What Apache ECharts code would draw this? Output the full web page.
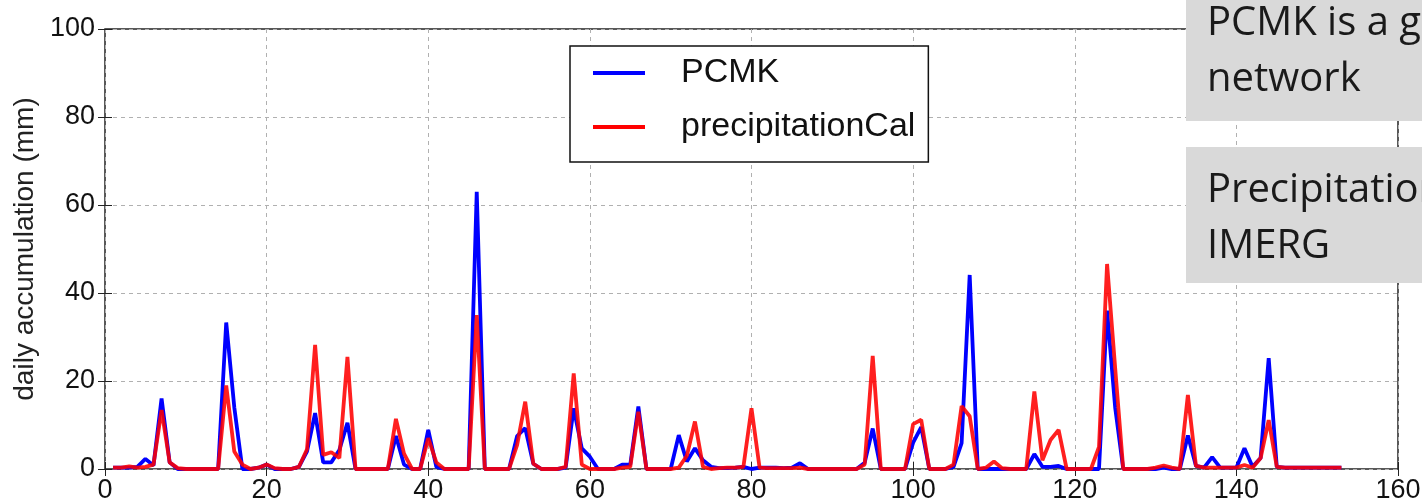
<!DOCTYPE html>
<html>
<head>
<meta charset="utf-8">
<script src="https://cdn.jsdelivr.net/npm/echarts@6/dist/echarts.min.js"></script>
<style>
html,body{margin:0;padding:0;background:#fff;}
#c{width:1422px;height:499px;}
</style>
</head>
<body>
<div id="c"></div>
<script>
// day index 1..153
const days = Array.from({length:153}, (_, i) => i + 1);
const xTicks = [0, 20, 40, 60, 80, 100, 120, 140, 160];
const yTicks = [0, 20, 40, 60, 80, 100];

const pcmk = [
  0.3,0.3,0.3,0.5,2.3,0.8,16,1.5,0,0,
  0,0,0,0,33.3,14,0,0,0.3,1,
  0,0,0,0.5,4,12.7,1.5,1.5,4.3,10.5,
  0,0,0,0,0,7.5,1,0,0,8.9,
  0.5,0,0,0,0,63,0,0,0,0,
  7.5,9.3,1.2,0,0,0,0.3,13.8,4.7,2.8,
  0,0,0,1,1,14.2,0,0,0,0,
  7.7,1.7,4.7,2,0.5,0.2,0.2,0.3,0.5,0,
  0.3,0.3,0.3,0.2,0.3,1.3,0,0,0,0,
  0,0,0,1.4,9.2,0,0,0,0,6,
  9.5,0,0,0,0.5,5.9,44.1,0,0,0,
  0,0,0,0,3.4,0.5,0.5,0.7,0,0,
  0,0,0,36,14,0,0,0,0,0,
  0.3,0,0,7.6,0.7,0.3,2.7,0.3,0.3,0.3,
  4.7,0.5,2.5,25.2,0.5,0.3,0.3,0.3,0.3,0.3,
  0.3,0.3,0.3
];
const precipitationCal = [
  0.3,0.3,0.6,0.3,0.5,1.0,13.4,1.5,0.2,0,
  0,0,0,0,19,4,1,0,0.3,1,
  0.2,0,0,0.5,4.5,28.2,3.2,3.8,2.5,25.5,
  0,0,0,0,0,11.4,3.5,0,0,7,
  1.5,0,0,0,0,35,0,0,0,0,
  5.5,15.3,1.2,0,0,0,0.5,21.7,1,0,
  0,0,0,0.3,0.5,13,0,0,0,0,
  0.3,3,10.8,0.5,0,0.2,0.3,0.3,0.5,13.8,
  0.3,0.2,0.2,0.2,0.2,0.3,0,0,0,0,
  0,0,0,1,25.7,0,0,0,0,10.2,
  11.2,0,0,0,1,14.3,12,0,0.3,1.7,
  0.2,0,0,0,17.6,2,6.6,8.9,0,0,
  0,0,5,46.6,23,0,0,0,0,0.3,
  0.8,0.3,0,16.8,0.7,0.3,0.3,0.3,0.3,0.3,
  0.9,0.3,2.5,11.1,0.5,0.3,0.3,0.3,0.3,0.3,
  0.3,0.3,0.3
];

const FONT = 'Liberation Sans';
const chart = echarts.init(document.getElementById('c'), null, {renderer:'canvas'});

const pair = arr => days.map((d, i) => [d, arr[i]]);

const gridLine = {show:true, lineStyle:{color:'#b0b0b0', width:1, type:[4,4]}};

chart.setOption({
  animation:false,
  backgroundColor:'#fff',
  grid:{left:105, right:24, top:29, bottom:30, outerBoundsMode:'none', containLabel:false,
        show:true, borderColor:'#222', borderWidth:1.5, backgroundColor:'transparent'},
  xAxis:[
    {type:'value', min:0, max:160, interval:20, position:'bottom',
     axisLine:{show:false}, axisTick:{show:true, inside:true, length:7, lineStyle:{color:'#222'}},
     splitLine:gridLine,
     axisLabel:{color:'#111', fontFamily:FONT, fontSize:27, margin:8,
       formatter:v => xTicks.includes(v) ? String(v) : ''}},
    {type:'value', min:0, max:160, interval:20, position:'top',
     axisLine:{show:false}, axisTick:{show:true, inside:true, length:7, lineStyle:{color:'#222'}},
     splitLine:{show:false}, axisLabel:{show:false}}
  ],
  yAxis:[
    {type:'value', min:0, max:100, interval:20, position:'left',
     name:'daily accumulation (mm)', nameLocation:'middle', nameGap:63, nameRotate:90,
     nameTextStyle:{color:'#222', fontFamily:FONT, fontSize:28},
     axisLine:{show:false}, axisTick:{show:true, inside:true, length:7, lineStyle:{color:'#222'}},
     splitLine:gridLine,
     axisLabel:{color:'#111', fontFamily:FONT, fontSize:27, margin:10,
       formatter:v => yTicks.includes(v) ? String(v) : ''}},
    {type:'value', min:0, max:100, interval:20, position:'right',
     axisLine:{show:false}, axisTick:{show:true, inside:true, length:7, lineStyle:{color:'#222'}},
     splitLine:{show:false}, axisLabel:{show:false}}
  ],
  legend:{
    left:570, top:46, orient:'vertical',
    backgroundColor:'#fff', borderColor:'#111', borderWidth:1.5,
    padding:[10, 13, 18, 23],
    itemWidth:52, itemHeight:4, itemGap:20, icon:'rect',
    textStyle:{color:'#111', fontFamily:FONT, fontSize:34, lineHeight:33, padding:[0,0,0,31]},
    data:['PCMK','precipitationCal']
  },
  series:[
    {name:'PCMK', type:'line', data:pair(pcmk), showSymbol:false, symbol:'none',
     lineStyle:{color:'#0000ff', width:3.8}, itemStyle:{color:'#0000ff'}, z:2},
    {name:'precipitationCal', type:'line', data:pair(precipitationCal), showSymbol:false, symbol:'none',
     lineStyle:{color:'#ff0000', width:3.8, opacity:0.88}, itemStyle:{color:'#ff0000'}, z:3}
  ],
  graphic:[
    {type:'rect', z:100, shape:{x:1186, y:0, width:260, height:121}, style:{fill:'#d9d9d9'}},
    {type:'text', z:101, style:{x:1207, y:-4, text:'PCMK is a gauge\nnetwork', fill:'#1a1a1a',
      font:'40px "Open Sans"', lineHeight:56, verticalAlign:'top', align:'left'}},
    {type:'rect', z:100, shape:{x:1186, y:147, width:260, height:136}, style:{fill:'#d9d9d9'}},
    {type:'text', z:101, style:{x:1207, y:163, text:'PrecipitationCal is\nIMERG', fill:'#1a1a1a',
      font:'40px "Open Sans"', lineHeight:56, verticalAlign:'top', align:'left'}}
  ]
});
</script>
</body>
</html>
